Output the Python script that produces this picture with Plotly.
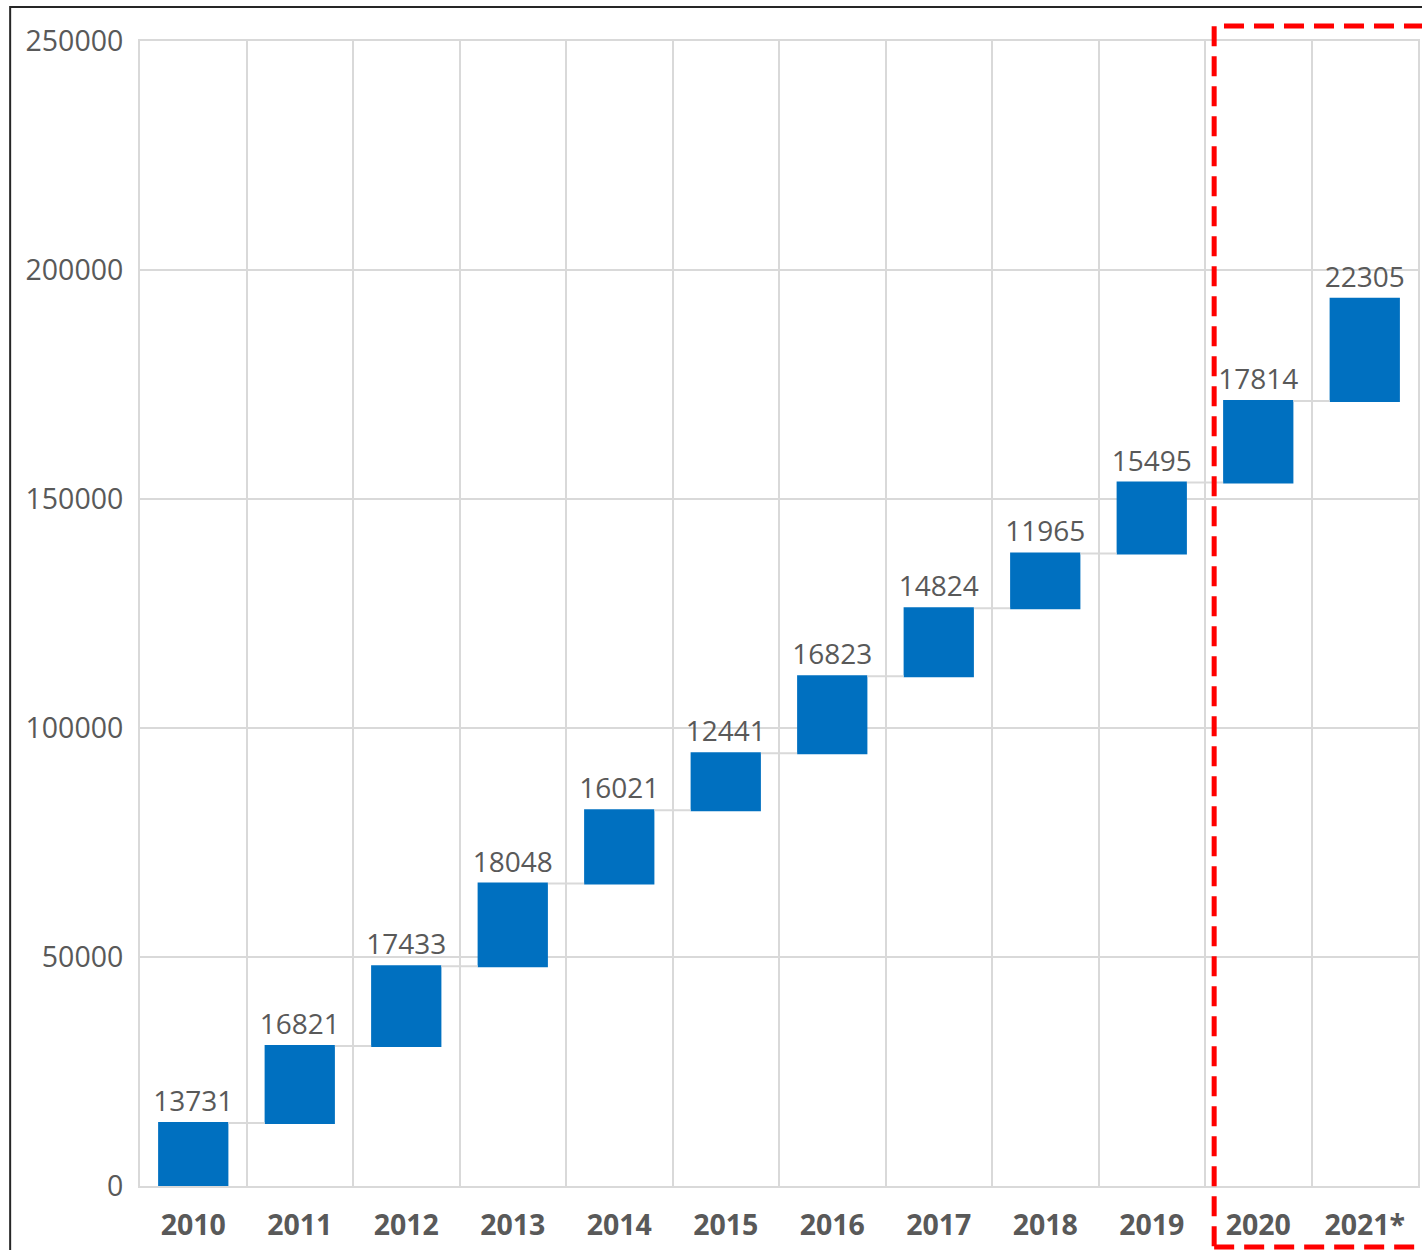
import plotly.graph_objects as go

years = ["2010", "2011", "2012", "2013", "2014", "2015", "2016", "2017", "2018", "2019", "2020", "2021*"]
increments = [13731, 16821, 17433, 18048, 16021, 12441, 16823, 14824, 11965, 15495, 17814, 22305]
y_ticks = [0, 50000, 100000, 150000, 200000, 250000]

grid = "#d9d9d9"
txt = "#595959"
font_family = "Open Sans, Noto Sans, sans-serif"

fig = go.Figure(go.Waterfall(
    x=years,
    y=increments,
    measure=["relative"] * len(years),
    text=[str(v) for v in increments],
    textposition="outside",
    constraintext="none",
    textfont=dict(size=28, color=txt, family=font_family),
    increasing=dict(marker=dict(color="#0070c0", line=dict(width=0))),
    connector=dict(mode="between", line=dict(color=grid, width=2)),
    cliponaxis=False,
    hoverinfo="x+y",
))

fig.update_layout(
    width=1422, height=1250,
    margin=dict(l=140, r=2, t=41, b=64),
    paper_bgcolor="white", plot_bgcolor="white",
    showlegend=False,
    waterfallgap=0.34,
    font=dict(family=font_family, color=txt),
    xaxis=dict(
        type="category",
        tickson="boundaries",
        showgrid=True, gridcolor=grid, gridwidth=2,
        showline=True, linecolor=grid, linewidth=2, mirror=True,
        ticks="", ticklabelstandoff=13,
        tickfont=dict(size=28.5, color=txt, family=font_family, weight="bold"),
        zeroline=False,
    ),
    yaxis=dict(
        range=[0, 250000],
        tickvals=y_ticks,
        ticktext=[str(v) for v in y_ticks],
        showgrid=True, gridcolor=grid, gridwidth=2,
        showline=True, linecolor=grid, linewidth=2, mirror=True,
        ticks="", ticklabelstandoff=9,
        tickfont=dict(size=28.5, color=txt, family=font_family),
        zeroline=False,
    ),
    shapes=[
        dict(type="rect", xref="paper", yref="paper",
             x0=-0.1016, x1=1.05, y0=-0.1, y1=1.0297,
             line=dict(color="#262626", width=2), fillcolor="rgba(0,0,0,0)", layer="above"),
        dict(type="rect", xref="paper", yref="paper",
             x0=0.8405, x1=1.02, y0=-0.0533, y1=1.0131,
             line=dict(color="#ff0000", width=5, dash="20px,10px"), fillcolor="rgba(0,0,0,0)", layer="above"),
    ],
)

fig.write_html("out.html", config={"displayModeBar": False},
               post_script="document.body.style.margin='0';")
